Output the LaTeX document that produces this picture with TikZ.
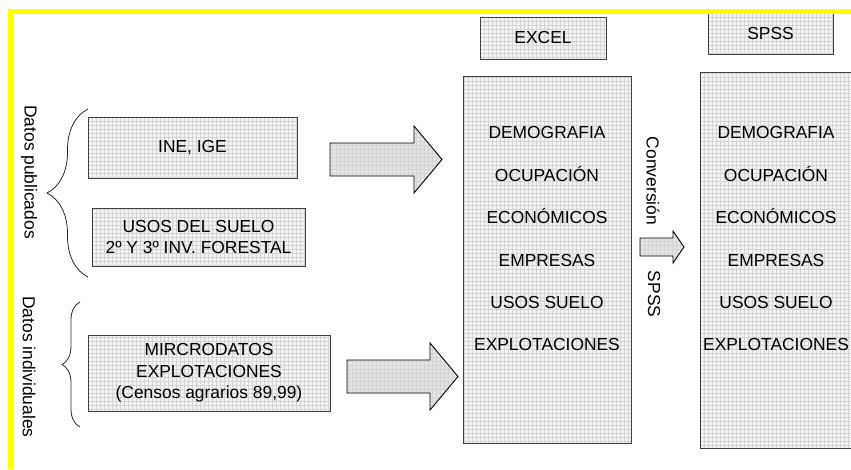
\documentclass[tikz,border=0pt]{standalone}
\usepackage{fontspec}
\setmainfont{Liberation Sans}
\usepackage{tikz}
\usetikzlibrary{patterns.meta,decorations.pathreplacing}
\definecolor{amarillo}{RGB}{255,255,0}
\definecolor{fondocaja}{RGB}{243,243,243}
\definecolor{fondoflecha}{RGB}{228,228,228}
\definecolor{rejilla}{RGB}{212,212,212}
\tikzdeclarepattern{
	name=cuadros,
	type=uncolored,
	bottom left={(-0.2pt,-0.2pt)},
	top right={(4.2pt,4.2pt)},
	tile size={(4pt,4pt)},
	code={\draw[line width=0.45pt] (0pt,0pt) -- (4pt,0pt) (0pt,0pt) -- (0pt,4pt);}
}
\tikzstyle{cuadricula}=[rectangle,draw=black!75,line width=0.9pt,
                      preaction={fill=fondocaja},pattern=cuadros,pattern color=rejilla,
                      font=\fontsize{17.4}{21.5}\selectfont,align=center,inner sep=0pt]
\tikzstyle{flecha}=[draw=black,line width=0.9pt,
                      preaction={fill=fondoflecha},pattern=cuadros,pattern color=rejilla]
\tikzstyle{lista}=[font=\fontsize{17.4}{42.4}\selectfont,align=center,inner sep=0pt]
\tikzstyle{etiqueta}=[font=\fontsize{17.4}{21.5}\selectfont,rotate=-90,inner sep=0pt]
\tikzstyle{llave}=[decorate,line width=0.8pt,draw=black!85]
\tikzset{medida/.style 2 args={minimum width=#1pt,minimum height=#2pt}}
\newcommand\variables{DEMOGRAFIA\\OCUPACIÓN\\ECONÓMICOS\\EMPRESAS\\USOS SUELO\\EXPLOTACIONES}
\newcommand\flechagruesa[6]{\draw[flecha] (#1,#4-#5) -- (#2,#4-#5) -- (#2,#4-#6) -- (#3,#4)
    -- (#2,#4+#6) -- (#2,#4+#5) -- (#1,#4+#5) -- cycle;}

\begin{document}
\begin{tikzpicture}[x=1pt,y=-1pt]
	\useasboundingbox (0,0) rectangle (851,469);
	% fuentes de datos
	\node [cuadricula,medida={209}{61}] (INE) at (192.5,147.5) {INE, IGE};
	\node [cuadricula,medida={213}{58}] (Usos) at (198.5,237) {USOS DEL SUELO\\2º Y 3º INV. FORESTAL};
	\node [cuadricula,medida={242}{76}] (Microdatos) at (209,373) {MIRCRODATOS\\EXPLOTACIONES\\(Censos agrarios 89,99)};
	% llaves
	\draw [llave,decoration={brace,amplitude=41pt}] (88,277) -- (88,109);
	\draw [llave,decoration={brace,amplitude=18pt}] (80,427) -- (80,302);
	\node [etiqueta] (Publicados) at (29,172) {Datos publicados};
	\node [etiqueta] (Individuales) at (29,367) {Datos individuales};
	% flechas
	\flechagruesa{330}{414}{442}{159.5}{16.5}{33.5}
	\flechagruesa{347}{430}{458}{376.5}{16.5}{33.5}
	\flechagruesa{640}{673}{684}{247}{9}{16}
	% excel
	\node [cuadricula,medida={126}{42}] (Excel) at (543,38) {EXCEL};
	\node [cuadricula,medida={168}{367}] (Tabla Excel) at (547,259.5) {};
	\node [lista] (Variables Excel) at (547,239) {\variables};
	\node [etiqueta] (Conversion) at (653,181) {Conversión};
	\node [etiqueta] (Conversion SPSS) at (654,294) {SPSS};
	% spss
	\node [cuadricula,medida={125}{41}] (SPSS) at (770.5,33.5) {SPSS};
	\node [cuadricula,medida={156}{376}] (Tabla SPSS) at (778,260) {};
	\node [lista] (Variables SPSS) at (776,239) {\variables};
	% marco
	\draw [amarillo,line width=5pt] (10.5,469) -- (10.5,11.5) -- (851,11.5);
\end{tikzpicture}
\end{document}
